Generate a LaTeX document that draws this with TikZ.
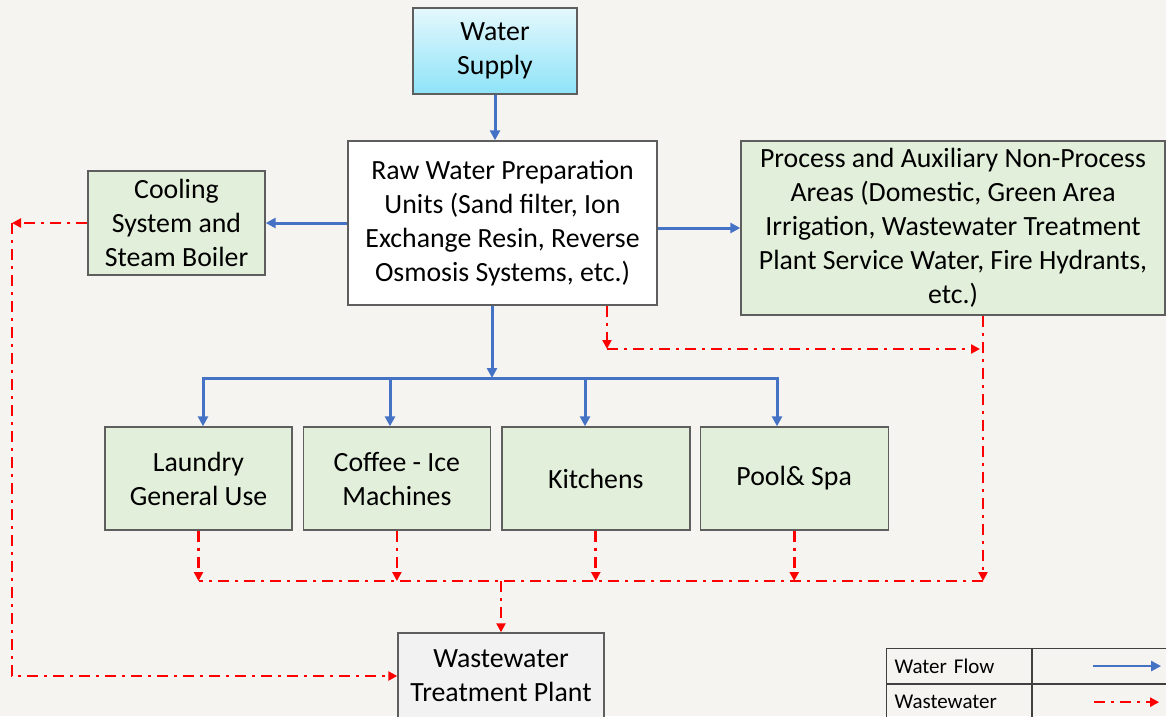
\documentclass[tikz,border=0pt]{standalone}
\usepackage{fontspec}
\setmainfont{Carlito}
\usepackage{xcolor}
\usetikzlibrary{arrows.meta,positioning}

\definecolor{bgcol}{HTML}{F5F4F0}
\definecolor{boxline}{HTML}{5E5E5E}
\definecolor{greenfill}{HTML}{E2EFDA}
\definecolor{wwgray}{HTML}{F2F2F2}
\definecolor{supplytop}{HTML}{E4F8FD}
\definecolor{supplybot}{HTML}{8EE3F8}
\definecolor{flowblue}{HTML}{4472C4}
\definecolor{wastered}{HTML}{FF0000}

\begin{document}
\begin{tikzpicture}[x=1pt, y=-1pt,
    box/.style={rectangle, draw=boxline, line width=1.4pt, align=center, inner sep=0pt, font=\fontsize{27.8}{34}\selectfont},
    greenbox/.style={box, fill=greenfill},
    flow/.style={-{Triangle[length=10pt,width=10pt]}, line width=3pt, draw=flowblue},
    waste/.style={-{Triangle[length=9pt,width=9pt]}, line width=2.8pt, draw=wastered, dash pattern=on 11pt off 6pt on 3pt off 6pt},
    cell/.style={rectangle, draw=black!75, line width=1.1pt, minimum height=35pt, inner sep=0pt, anchor=north west, font=\fontsize{21}{25}\selectfont}
]
\fill[bgcol] (0,0) rectangle (1166,716);
\useasboundingbox (0,0) rectangle (1166,716);

% top part
\node[box, minimum width=164pt, minimum height=86pt, top color=supplytop, bottom color=supplybot] (supply) at (495,51) {Water\\Supply};
\node[box, fill=white, minimum width=309pt, minimum height=164pt] (prep) at (502.5,223) {Raw Water Preparation\\Units (Sand filter, Ion\\Exchange Resin, Reverse\\Osmosis Systems, etc.)};
\node[greenbox, minimum width=177pt, minimum height=104pt] (cool) at (176.5,223) {Cooling\\System and\\Steam Boiler};
\node[greenbox, minimum width=424pt, minimum height=174pt] (proc) at (953,228) {Process and Auxiliary Non-Process\\Areas (Domestic, Green Area\\Irrigation, Wastewater Treatment\\Plant Service Water, Fire Hydrants,\\etc.)};

% users row
\node[greenbox, minimum width=187pt, minimum height=103pt] (laundry) at (198.5,478.5) {Laundry\\General Use};
\node[greenbox, minimum width=187pt, minimum height=103pt, right=10pt of laundry] (coffee) {Coffee - Ice\\Machines};
\node[greenbox, minimum width=188pt, minimum height=103pt, right=10pt of coffee] (kitchen) {Kitchens};
\node[greenbox, minimum width=188pt, minimum height=103pt, right=9pt of kitchen] (pool) {Pool\& Spa};

\node[box, fill=wwgray, minimum width=206pt, minimum height=86pt] (wwtp) at (501,676) {Wastewater\\Treatment Plant};

% water flow
\coordinate (bj) at (492,378);
\coordinate (b1) at (203,378);
\coordinate (b2) at (390,378);
\coordinate (b3) at (585,378);
\coordinate (b4) at (777,378);
\draw[flow] (supply.south) -- (supply.south |- prep.north);
\draw[flow] (prep.west) -- (cool.east);
\draw[flow] (prep.east |- proc.west) -- (proc.west);
\draw[flow] (prep.south -| bj) -- (bj);
\draw[flow, -, line cap=rect] (b1) -- (b4);
\foreach \b/\n in {b1/laundry, b2/coffee, b3/kitchen, b4/pool}
    \draw[flow] (\b) -- (\b |- \n.north);

% wastewater
\coordinate (cj) at (12,223);
\coordinate (pj) at (607,349);
\coordinate (pd) at (983,581);
\draw[waste] (cool.west) -- (cj);
\draw[waste] (cj) |- (wwtp.west);
\draw[waste] (prep.south -| pj) -- (pj);
\draw[waste, shorten >=3pt] (pj) -- (pj -| pd);
\draw[waste] (proc.south -| pd) -- (pd);
\draw[waste, -] (pd) -- (pd -| laundry.south);
\foreach \n in {laundry, coffee, kitchen, pool}
    \draw[waste] (\n.south) -- (\n.south |- pd);
\draw[waste] (wwtp.north |- pd) -- (wwtp.north);

% legend
\node[cell, text width=129pt, inner xsep=8pt, align=left] (lflow) at (886,648) {Water Flow};
\node[cell, minimum width=136pt] (lflowkey) at (lflow.north east) {};
\node[cell, text width=129pt, inner xsep=8pt, align=left] (lwaste) at (lflow.south west) {Wastewater};
\node[cell, minimum width=136pt] (lwastekey) at (lwaste.north east) {};
\draw[flow, line width=2.4pt] ([xshift=61pt]lflowkey.west) -- ([xshift=129pt]lflowkey.west);
\draw[waste, line width=2.4pt] ([xshift=62pt]lwastekey.west) -- ([xshift=127pt]lwastekey.west);
\end{tikzpicture}
\end{document}
